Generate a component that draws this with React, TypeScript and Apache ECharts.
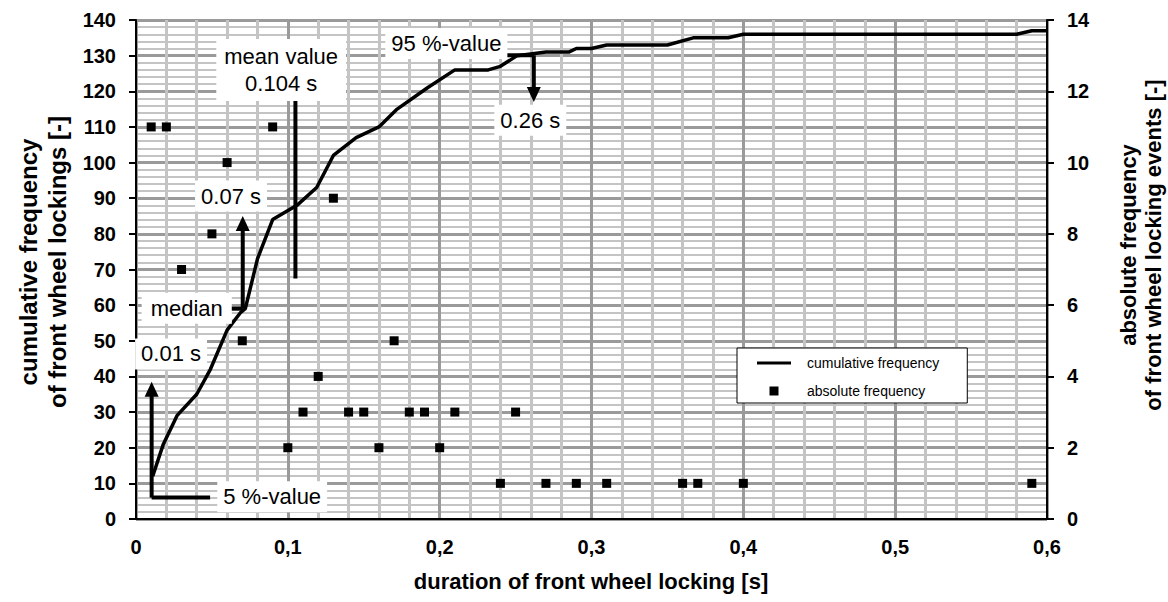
import React, { useEffect, useRef } from "react";
import * as echarts from "echarts";

const FONT = '"Liberation Sans", Arial, Helvetica, sans-serif';

// cumulative frequency curve (left axis)
const cumDuration = [0.011, 0.018, 0.027, 0.04, 0.049, 0.06, 0.069, 0.072, 0.08, 0.09, 0.106, 0.119, 0.13, 0.145, 0.16, 0.172, 0.192, 0.21, 0.232, 0.24, 0.251, 0.27, 0.285, 0.29, 0.3, 0.31, 0.35, 0.367, 0.39, 0.4, 0.58, 0.59, 0.6];
const cumFrequency = [12, 21, 29, 35, 42, 53, 58, 59, 73, 84, 88, 93, 102, 107, 110, 115, 121, 126, 126, 127, 130, 131, 131, 132, 132, 133, 133, 135, 135, 136, 136, 137, 137];

// absolute frequency points (right axis)
const absDuration = [0.01, 0.02, 0.03, 0.05, 0.06, 0.07, 0.09, 0.1, 0.11, 0.12, 0.13, 0.14, 0.15, 0.16, 0.17, 0.18, 0.19, 0.2, 0.21, 0.24, 0.25, 0.27, 0.29, 0.31, 0.36, 0.37, 0.4, 0.59];
const absCount = [11, 11, 7, 8, 10, 5, 11, 2, 3, 4, 9, 3, 3, 2, 5, 3, 3, 2, 3, 1, 3, 1, 1, 1, 1, 1, 1, 1];

const seriesNames = ["cumulative frequency", "absolute frequency"];
const xTitle = "duration of front wheel locking [s]";
const leftTitle = ["cumulative frequency", "of front wheel lockings [-]"];
const rightTitle = ["absolute frequency", "of front wheel locking events [-]"];

// annotation anchors in data space (x in s, y in left-axis units)
const meanValueX = 0.105;
const meanLineFrom = 67.5;
const meanLineTo = 118.5;
const meanLabel = { text: "mean value\n0.104 s", x: 0.0956, y: 126 };
const medianLevel = 59;
const medianX = 0.0703;
const medianBarStart = 0.061;
const medianArrowTip = 85;
const medianLabel = { text: "median", x: 0.0334, y: 59.1 };
const median07Label = { text: "0.07 s", x: 0.0626, y: 90.6 };
const p5X = 0.0103;
const p5Level = 6;
const p5BarEnd = 0.0488;
const p5ArrowTip = 38.5;
const p5Label = { text: "5 %-value", x: 0.0897, y: 6.25 };
const p01Label = { text: "0.01 s", x: 0.0231, y: 46.3 };
const p95X = 0.262;
const p95Level = 130.1;
const p95BarStart = 0.2245;
const p95ArrowTip = 117;
const p95Label = { text: "95 %-value", x: 0.2044, y: 133.4 };
const p026Label = { text: "0.26 s", x: 0.2597, y: 111.9 };

export default function App() {
  const ref = useRef<HTMLDivElement>(null);
  useEffect(() => {
    const el = ref.current!;
    const chart = echarts.init(el, null, { renderer: "svg" });
    const axisLabel = { color: "#000", fontFamily: FONT, fontSize: 20, fontWeight: "bold" as const };
    chart.setOption({
      animation: false,
      backgroundColor: "#fff",
      grid: { left: 136, right: 121, top: 20, bottom: 83, containLabel: false },
      legend: {
        orient: "vertical",
        left: 737,
        top: 348,
        padding: [8, 28, 5, 20],
        itemWidth: 34,
        itemHeight: 9,
        itemGap: 14,
        backgroundColor: "#fff",
        borderColor: "#000",
        borderWidth: 1,
        selectedMode: false,
        symbolKeepAspect: true,
        textStyle: { fontFamily: FONT, fontSize: 14, color: "#000", padding: [0, 0, 0, 11] },
        data: [
          { name: seriesNames[0], icon: "path://M0,0h34v3h-34z" },
          { name: seriesNames[1], icon: "path://M0,0h10v10h-10z" },
        ],
      },
      xAxis: {
        type: "value",
        min: 0,
        max: 0.6,
        interval: 0.1,
        axisLine: { show: true, lineStyle: { color: "#000", width: 2 } },
        axisTick: { show: false },
        axisLabel: {
          ...axisLabel,
          margin: 18,
          formatter: (v: number) => (v === 0 ? "0" : v.toFixed(1).replace(".", ",")),
        },
        splitLine: { show: true, lineStyle: { color: "#9a9a9a", width: 3 } },
        minorTick: { show: false, splitNumber: 5 },
        minorSplitLine: { show: true, lineStyle: { color: "#c4c4c4", width: 3 } },
      },
      yAxis: [
        {
          type: "value",
          min: 0,
          max: 140,
          interval: 10,
          axisLine: { show: true, lineStyle: { color: "#000", width: 2 } },
          axisTick: { show: true, length: 7, lineStyle: { color: "#000", width: 2 } },
          axisLabel: { ...axisLabel, margin: 20 },
          splitLine: { show: true, lineStyle: { color: "#9a9a9a", width: 3 } },
          minorTick: { show: false, splitNumber: 5 },
          minorSplitLine: { show: true, lineStyle: { color: "#c4c4c4", width: 2 } },
        },
        {
          type: "value",
          position: "right",
          min: 0,
          max: 14,
          interval: 2,
          axisLine: { show: true, lineStyle: { color: "#000", width: 2 } },
          axisTick: { show: true, length: 7, lineStyle: { color: "#000", width: 2 } },
          axisLabel: { ...axisLabel, margin: 20 },
          splitLine: { show: false },
        },
      ],
      series: [
        {
          name: seriesNames[0],
          type: "line",
          yAxisIndex: 0,
          data: cumDuration.map((d, i) => [d, cumFrequency[i]]),
          showSymbol: false,
          symbol: "none",
          lineStyle: { color: "#000", width: 3.5 },
          itemStyle: { color: "#000" },
          z: 3,
        },
        {
          name: seriesNames[1],
          type: "scatter",
          yAxisIndex: 1,
          data: absDuration.map((d, i) => [d, absCount[i]]),
          symbol: "rect",
          symbolSize: 9,
          itemStyle: { color: "#000", opacity: 1 },
          z: 4,
        },
      ],
    });

    const p = (x: number, y: number) => chart.convertToPixel({ seriesIndex: 0 }, [x, y]) as number[];
    const seg = (a: number[], b: number[], w = 4) => ({
      type: "line",
      shape: { x1: a[0], y1: a[1], x2: b[0], y2: b[1] },
      style: { stroke: "#000", lineWidth: w },
      z: 100,
    });
    const head = (tip: number[], dir: number) => ({
      type: "polygon",
      shape: {
        points: [
          [tip[0] - 7, tip[1] + dir * 15],
          [tip[0] + 7, tip[1] + dir * 15],
          [tip[0], tip[1]],
        ],
      },
      style: { fill: "#000" },
      z: 100,
    });
    const label = (l: { text: string; x: number; y: number }, pad: number[] = [2, 6]) => {
      const c = p(l.x, l.y);
      return {
        type: "text",
        x: c[0],
        y: c[1],
        style: {
          text: l.text,
          fill: "#000",
          font: `22px ${FONT}`,
          align: "center",
          verticalAlign: "middle",
          backgroundColor: "#fff",
          padding: pad,
          lineHeight: 27,
        },
        z: 101,
      };
    };
    const title = (text: string, x: number, y: number, size: number, rot: number) => ({
      type: "text",
      x,
      y,
      rotation: rot,
      style: {
        text,
        fill: "#000",
        font: `bold ${size}px ${FONT}`,
        align: "center",
        verticalAlign: "middle",
      },
      z: 101,
    });

    const g: any[] = [];
    // mean value
    g.push(seg(p(meanValueX, meanLineFrom), p(meanValueX, meanLineTo), 4));
    g.push(label(meanLabel, [4, 8]));
    // median
    const mBase = p(medianX, medianLevel);
    const mTip = p(medianX, medianArrowTip);
    g.push(seg(p(medianBarStart, medianLevel), mBase, 4));
    g.push(seg(mBase, [mTip[0], mTip[1] + 12], 4));
    g.push(head(mTip, 1));
    g.push(label(medianLabel, [2, 9]));
    g.push(label(median07Label));
    // 5 % value
    const fBase = p(p5X, p5Level);
    const fTip = p(p5X, p5ArrowTip);
    g.push(seg(fBase, p(p5BarEnd, p5Level), 4));
    g.push(seg(fBase, [fTip[0], fTip[1] + 12], 4));
    g.push(head(fTip, 1));
    g.push(label(p5Label));
    g.push(label(p01Label));
    // 95 % value
    const nBase = p(p95X, p95Level);
    const nTip = p(p95X, p95ArrowTip);
    g.push(seg(p(p95BarStart, p95Level), nBase, 4));
    g.push(seg(nBase, [nTip[0], nTip[1] - 12], 4));
    g.push(head(nTip, -1));
    g.push(label(p95Label));
    g.push(label(p026Label));
    // axis titles
    g.push(title(leftTitle[0], 28, 262, 24, Math.PI / 2));
    g.push(title(leftTitle[1], 57, 262, 24, Math.PI / 2));
    g.push(title(rightTitle[0], 1128, 245, 22, Math.PI / 2));
    g.push(title(rightTitle[1], 1153, 245, 22, Math.PI / 2));
    g.push(title(xTitle, 591, 581, 22, 0));

    chart.setOption({ graphic: g });
    return () => chart.dispose();
  }, []);
  return <div ref={ref} style={{ position: "fixed", left: 0, top: 0, width: 1168, height: 602 }} />;
}
